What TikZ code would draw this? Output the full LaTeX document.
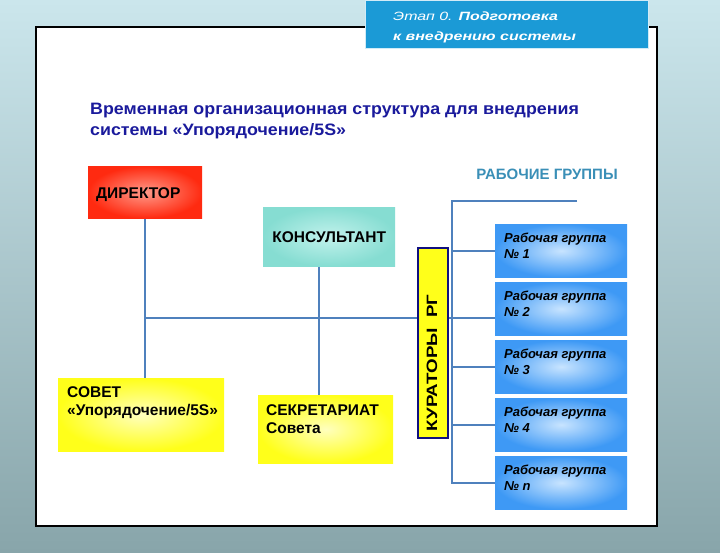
\documentclass[tikz,border=0pt]{standalone}
\usepackage{fontspec}
\setmainfont{Liberation Sans}
\usetikzlibrary{
  positioning,
  backgrounds
}
\definecolor{slideTop}{HTML}{CBE6EC}
\definecolor{slideBottom}{HTML}{88A5AA}
\definecolor{headBlue}{HTML}{1B9AD6}
\definecolor{titleBlue}{HTML}{1A1A9C}
\definecolor{lineBlue}{HTML}{4F81BD}
\definecolor{rgBlue}{HTML}{3A8FB7}
\definecolor{dirRed}{HTML}{FF2A10}
\definecolor{dirPink}{HTML}{FF9A8A}
\definecolor{konsTeal}{HTML}{86DDD2}
\definecolor{konsLight}{HTML}{C2F2EC}
\definecolor{boxYellow}{HTML}{FFFF1A}
\definecolor{paleYellow}{HTML}{FFFFBE}
\definecolor{grpBlue}{HTML}{3E99F5}
\definecolor{grpLight}{HTML}{C8E4FF}
\definecolor{kurBorder}{HTML}{10107F}
\tikzset{
  box/.style={inner sep=0pt, anchor=north west},
  red box/.style={box, inner color=dirPink, outer color=dirRed},
  teal box/.style={box, inner color=konsLight, outer color=konsTeal},
  yellow box/.style={box, inner color=paleYellow, outer color=boxYellow},
  grp box/.style={box, inner color=grpLight, outer color=grpBlue},
  link/.style={draw=lineBlue, line width=1.8pt},
  boxtext/.style={
    inner sep=0pt,
    align=left,
    font=\bfseries\fontsize{15.5}{18}\selectfont
  },
  grptext/.style={
    inner sep=0pt,
    align=left,
    font=\bfseries\itshape\fontsize{13}{16}\selectfont
  }
}

\begin{document}
\begin{tikzpicture}[x=1pt, y=-1pt]

  \begin{scope}[on background layer]
    \shade[top color=slideTop, bottom color=slideBottom] (0,0) rectangle (720,553);
    \draw[fill=white, line width=1.2pt] (36,27) rectangle (657,526);
  \end{scope}
  \useasboundingbox (0,0) rectangle (720,553);

  \node[box, fill=headBlue, draw=white!80!headBlue, line width=1pt,
        minimum width=283pt, minimum height=48pt] (etap) at (365,0) {};
  \node[boxtext, anchor=north west, text=white,
        font=\itshape\fontsize{12}{20}\selectfont\addfontfeatures{FakeStretch=1.33}]
    (etaptext) at (393,12) {Этап 0. \textbf{Подготовка}\\\textbf{к внедрению системы}};

  \node[boxtext, anchor=north west, text=titleBlue,
        font=\bfseries\fontsize{16.5}{21}\selectfont\addfontfeatures{FakeStretch=1.08}]
    (title) at (90,103) {Временная организационная структура для внедрения\\
    системы «Упорядочение/5S»};

  \node[red box, minimum width=114pt, minimum height=52pt] (dir) at (88,166) {};
  \node[boxtext, right=8pt of dir.west, yshift=-2pt] (dirtext) {ДИРЕКТОР};

  \node[teal box, minimum width=132pt, minimum height=59pt] (kons) at (263,207) {};
  \node[boxtext] (konstext) at (kons.center) {КОНСУЛЬТАНТ};

  \node[yellow box, minimum width=166pt, minimum height=73pt] (sovet) at (58,378) {};
  \node[boxtext, below right=8pt and 9pt of sovet.north west] (sovettext)
    {СОВЕТ\\«Упорядочение/5S»};

  \node[yellow box, minimum width=135pt, minimum height=68pt] (sekr) at (258,395) {};
  \node[boxtext, below right=9pt and 8pt of sekr.north west] (sekrtext)
    {СЕКРЕТАРИАТ\\Совета};

  \node[box, fill=boxYellow, draw=kurBorder, line width=1.8pt,
        minimum width=30pt, minimum height=190pt] (kur) at (417,247) {};
  \node[boxtext, rotate=90,
        font=\bfseries\fontsize{15}{18}\selectfont\addfontfeatures{FakeStretch=1.25}]
    (kurtext) at (432,363) {КУРАТОРЫ\ \ РГ};

  \node[boxtext, text=rgBlue, font=\bfseries\fontsize{15}{18}\selectfont] (rg) at (547,174)
    {РАБОЧИЕ ГРУППЫ};

  \foreach \i/\y in {1/224, 2/282, 3/340, 4/398, n/456}{
    \node[grp box, minimum width=132pt, minimum height=53pt] (g\i) at (495,\y) {};
    \node[grptext, below right=8.5pt and 9pt of g\i.north west] (gt\i)
      {Рабочая группа\\№ \i};
  }

  \coordinate (bus) at (452,318);
  \coordinate (rgtop) at (452,201);
  \coordinate (rgend) at (577,201);

  \begin{scope}[on background layer]
    \draw[link] (dir.south) -- (dir.south |- sovet.north);
    \draw[link] ([xshift=-10pt]kons.south) -- ([xshift=-10pt]kons.south |- sekr.north);
    \draw[link] (dir.south |- bus) -- (g2.west |- bus);
    \draw[link] (rgend) -- (rgtop) -- (rgtop |- gn.west) -- (gn.west);
    \foreach \i in {1,3,4}{
      \draw[link] (g\i.west -| bus) -- (g\i.west);
    }
  \end{scope}
\end{tikzpicture}
\end{document}
